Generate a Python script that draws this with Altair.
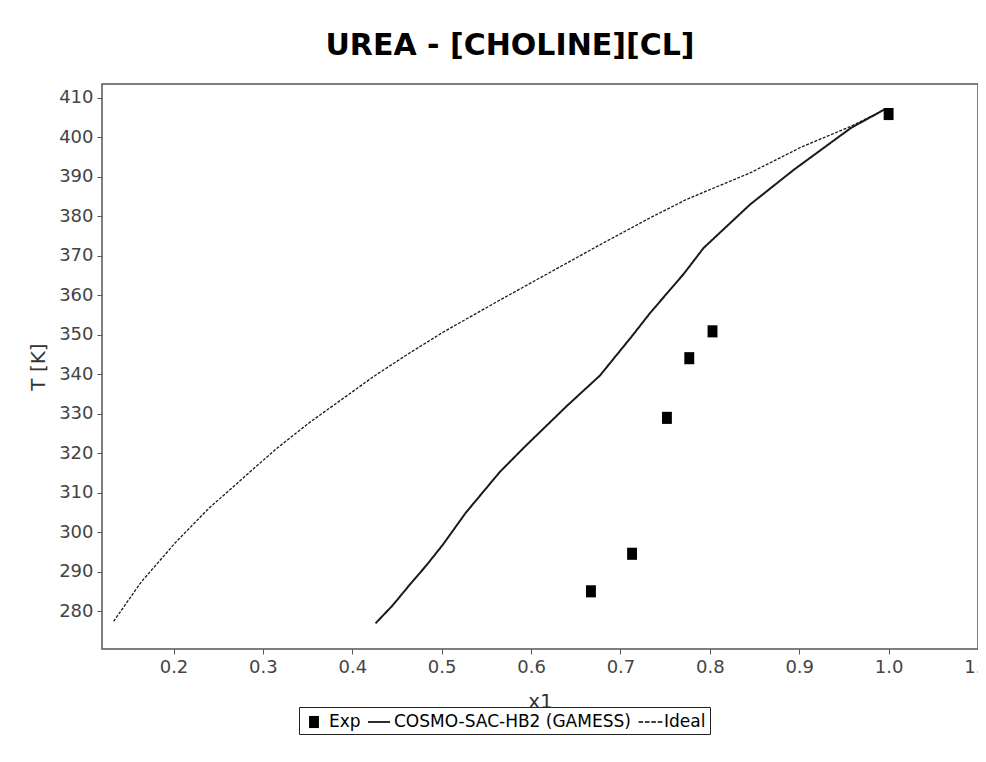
import altair as alt
import pandas as pd

# ---------------- data ----------------
chart_title = "UREA - [CHOLINE][CL]"
series_names = ["Exp", "COSMO-SAC-HB2 (GAMESS)", "Ideal"]

exp_x1 = [0.667, 0.713, 0.752, 0.777, 0.803, 1.000]
exp_T = [285.1, 294.6, 329.0, 344.1, 350.9, 405.9]

cosmo_x1 = [0.426, 0.445, 0.464, 0.483, 0.501, 0.527, 0.565, 0.593, 0.640,
            0.677, 0.714, 0.733, 0.752, 0.771, 0.793, 0.845, 0.894, 0.958, 0.995]
cosmo_T = [277.0, 281.5, 286.7, 291.7, 296.8, 305.0, 315.3, 321.7, 332.0,
           339.7, 350.0, 355.5, 360.5, 365.5, 372.0, 383.0, 391.8, 402.4, 407.0]

ideal_x1 = [0.133, 0.164, 0.202, 0.239, 0.277, 0.314, 0.352, 0.389, 0.426, 0.464,
            0.501, 0.565, 0.677, 0.733, 0.774, 0.845, 0.902, 0.958, 0.995]
ideal_T = [277.5, 287.5, 297.4, 306.0, 313.6, 321.0, 327.8, 333.8, 339.8, 345.4,
           350.6, 358.8, 372.8, 379.6, 384.3, 391.0, 397.5, 402.8, 407.0]

x_ticks = [0.2, 0.3, 0.4, 0.5, 0.6, 0.7, 0.8, 0.9, 1.0, 1.1]
y_ticks = [280, 290, 300, 310, 320, 330, 340, 350, 360, 370, 380, 390, 400, 410]
x_domain = [0.12, 1.1]
y_domain = [270.5, 413.5]

# ---------------- tables ----------------
exp_df = pd.DataFrame({"x1": exp_x1, "T": exp_T, "series": series_names[0]})
line_df = pd.concat([
    pd.DataFrame({"x1": cosmo_x1, "T": cosmo_T, "series": series_names[1]}),
    pd.DataFrame({"x1": ideal_x1, "T": ideal_T, "series": series_names[2]}),
], ignore_index=True)

# symbol shapes (SVG paths in the unit box) used for the markers / legend glyphs
square_path = "M-0.45,-0.55H0.45V0.55H-0.45Z"
solid_path = "M-1,-0.075H1V0.075H-1Z"
dash_path = ("M-0.95,-0.06H-0.53V0.06H-0.95Z M-0.37,-0.06H0.05V0.06H-0.37Z "
             "M0.21,-0.06H0.63V0.06H0.21Z M0.79,-0.06H1.21V0.06H0.79Z")
FONT = "DejaVu Sans"

x_enc = alt.X("x1:Q", scale=alt.Scale(domain=x_domain, nice=False, zero=False),
              axis=alt.Axis(values=x_ticks, format=".1f", title="x1", labelFlush=False))
y_enc = alt.Y("T:Q", scale=alt.Scale(domain=y_domain, nice=False, zero=False),
              axis=alt.Axis(values=y_ticks, format="d", title="T [K]", labelFlush=False))

points = alt.Chart(exp_df).mark_point(
    filled=True, color="black", opacity=1, size=484, strokeWidth=0
).encode(
    x=x_enc, y=y_enc,
    shape=alt.Shape("series:N",
                    scale=alt.Scale(domain=series_names,
                                    range=[square_path, solid_path, dash_path]),
                    legend=alt.Legend(title=None, orient="none", legendX=197, legendY=623,
                                      direction="horizontal", labelLimit=400)),
)

lines = alt.Chart(line_df).mark_line(color="black").encode(
    x=x_enc, y=y_enc,
    strokeDash=alt.StrokeDash("series:N",
                              scale=alt.Scale(domain=series_names[1:], range=[[1, 0], [3, 1.5]]),
                              legend=None),
    strokeWidth=alt.StrokeWidth("series:N",
                                scale=alt.Scale(domain=series_names[1:], range=[2.0, 1.3]),
                                legend=None),
    color=alt.value("#1a1a1a"),
    detail="series:N",
)

chart = alt.layer(lines, points).properties(
    width=876, height=565,
    autosize=alt.AutoSizeParams(type="none"),
    padding={"left": 94, "top": 76, "right": 0, "bottom": 105},
    title=alt.TitleParams(chart_title, fontSize=30, fontWeight="bold", font=FONT,
                          anchor="middle", dx=-30, offset=23, color="black"),
).configure_view(
    stroke="#555555", strokeWidth=1.5
).configure_axis(
    labelFont=FONT, titleFont=FONT, labelFontSize=18, titleFontSize=20,
    labelColor="#444444", titleColor="#333333", titleFontWeight="normal",
    grid=False, domain=False, tickColor="#555555", tickSize=5, tickWidth=1,
    labelPadding=4,
).configure_axisY(
    titlePadding=10
).configure_axisX(
    titlePadding=15
).configure_legend(
    labelFont=FONT, labelFontSize=17, labelColor="black",
    strokeColor="#222222", padding=4, cornerRadius=0,
    symbolSize=484, symbolFillColor="black", symbolStrokeWidth=0,
    columnPadding=7, labelOffset=4,
)

chart.save("out.html", embed_options={"renderer": "svg", "actions": False})
